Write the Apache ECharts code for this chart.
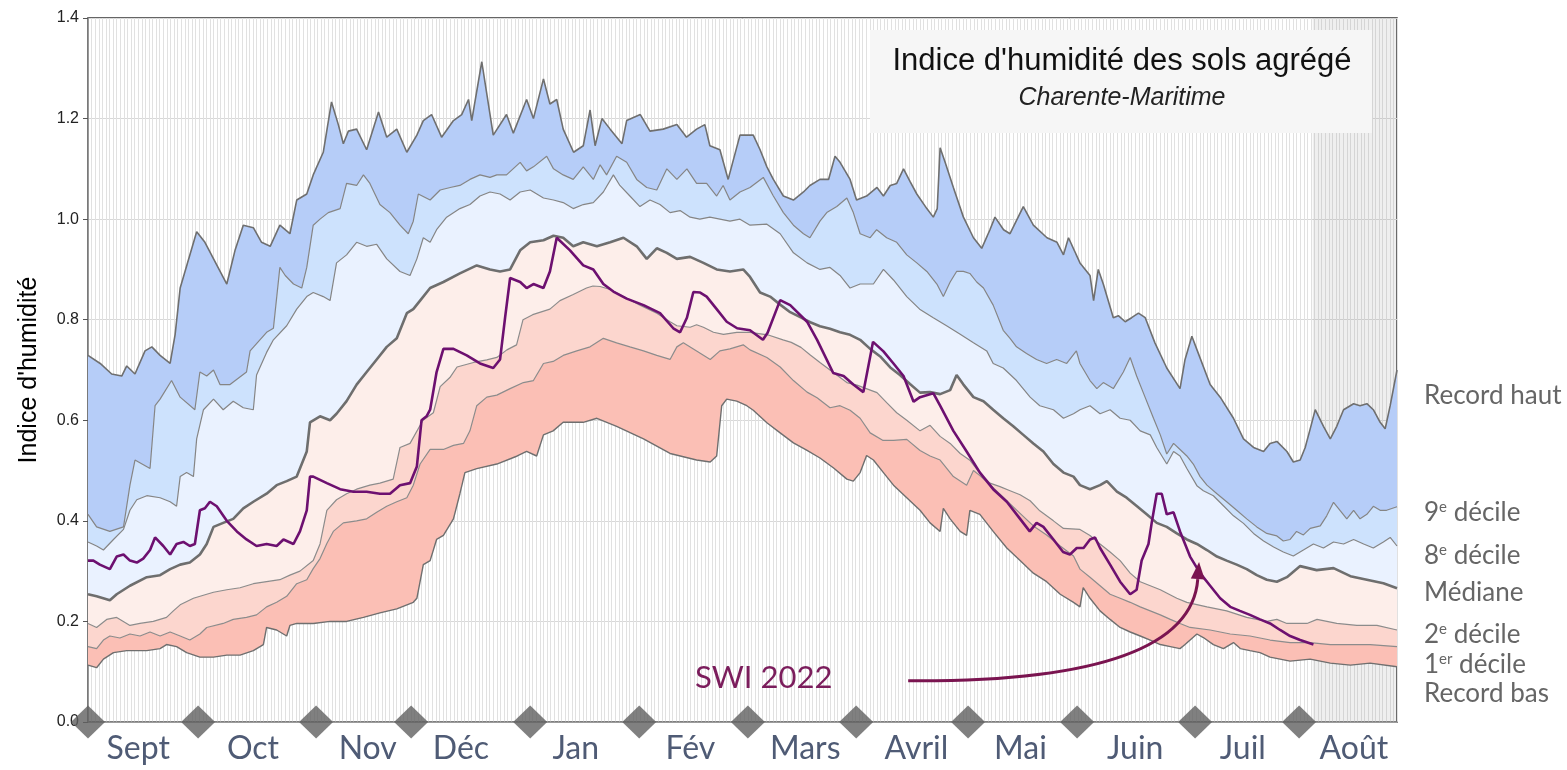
<!DOCTYPE html>
<html>
<head>
<meta charset="utf-8">
<title>Indice d'humidité des sols agrégé</title>
<script src="https://cdn.jsdelivr.net/npm/echarts@6/dist/echarts.min.js"></script>
<style>
html, body { margin: 0; padding: 0; background: #fff; }
#chart { width: 1567px; height: 770px; }
</style>
</head>
<body>
<div id="chart"></div>
<script>
// jour de l'année hydrologique (0 = 1er sept) , valeur SWI
var recordHaut = [[0,0.729],[3.4,0.713],[6.6,0.692],[9.4,0.688],[10.8,0.708],[13.1,0.692],[15.9,0.738],[17.8,0.746],[20.1,0.729],[22.9,0.713],[24.3,0.771],[25.7,0.863],[30.3,0.975],[32.6,0.954],[38.7,0.871],[41.0,0.938],[43.3,0.988],[46.1,0.983],[48.4,0.954],[50.8,0.946],[53.5,0.988],[56.3,0.971],[58.2,1.038],[61.0,1.05],[62.8,1.088],[65.6,1.133],[67.9,1.233],[69.8,1.188],[71.2,1.15],[72.6,1.175],[74.9,1.179],[77.7,1.138],[81.0,1.213],[83.3,1.163],[86.1,1.179],[88.9,1.133],[91.7,1.167],[93.5,1.196],[95.8,1.208],[98.6,1.163],[101.9,1.196],[104.2,1.208],[106.1,1.238],[107.0,1.196],[109.8,1.313],[113.0,1.167],[116.7,1.208],[118.6,1.171],[122.3,1.238],[124.2,1.2],[127.0,1.279],[128.8,1.229],[130.7,1.238],[132.5,1.179],[135.4,1.133],[138.1,1.146],[140.0,1.217],[141.4,1.146],[143.3,1.2],[145.6,1.179],[148.9,1.15],[150.2,1.196],[154.0,1.208],[156.7,1.175],[160.4,1.179],[164.2,1.188],[166.9,1.163],[169.7,1.179],[172.0,1.188],[173.4,1.146],[176.2,1.138],[178.5,1.079],[181.8,1.167],[185.5,1.167],[187.4,1.138],[189.3,1.104],[191.1,1.079],[193.9,1.046],[196.7,1.038],[199.5,1.054],[201.3,1.067],[204.1,1.079],[206.5,1.079],[208.3,1.125],[209.7,1.113],[212.5,1.079],[214.3,1.038],[217.1,1.046],[220.0,1.063],[221.8,1.046],[223.7,1.067],[225.5,1.071],[227.4,1.1],[229.2,1.075],[231.1,1.05],[233.9,1.021],[235.7,1.004],[236.8,1.021],[237.6,1.142],[239.0,1.113],[241.3,1.063],[244.1,1.004],[246.9,0.963],[249.2,0.942],[251.5,0.979],[252.9,1.004],[255.3,0.979],[257.1,0.971],[260.8,1.025],[263.6,0.988],[267.4,0.963],[270.2,0.954],[272.0,0.929],[273.4,0.963],[276.6,0.913],[279.4,0.888],[280.4,0.838],[281.7,0.9],[283.1,0.871],[285.9,0.804],[287.3,0.808],[289.2,0.796],[291.0,0.804],[292.9,0.813],[294.8,0.804],[297.5,0.754],[300.8,0.704],[304.5,0.663],[305.9,0.721],[307.8,0.767],[309.6,0.733],[312.9,0.671],[315.7,0.646],[319.4,0.604],[322.2,0.563],[325.0,0.546],[327.8,0.538],[329.6,0.554],[331.5,0.558],[334.3,0.538],[336.1,0.517],[338.0,0.521],[339.4,0.546],[340.8,0.583],[342.2,0.621],[344.5,0.588],[346.4,0.563],[348.2,0.588],[350.1,0.621],[352.9,0.633],[354.7,0.629],[356.6,0.633],[358.4,0.621],[360.3,0.596],[361.7,0.583],[363.1,0.629],[365,0.70]];

var decile9 = [[0,0.413],[2.4,0.388],[6.1,0.379],[9.9,0.388],[11.7,0.471],[13.1,0.521],[17.3,0.504],[18.7,0.629],[20.1,0.642],[23.3,0.679],[25.7,0.646],[29.8,0.621],[31.2,0.696],[33.1,0.688],[35.0,0.7],[36.8,0.671],[39.6,0.671],[44.2,0.696],[45.2,0.738],[49.8,0.775],[51.7,0.783],[53.5,0.904],[55.0,0.888],[57.3,0.871],[59.6,0.863],[61.0,0.904],[62.8,0.988],[64.7,1.0],[67.0,1.013],[70.3,1.021],[72.1,1.071],[74.9,1.067],[76.8,1.088],[78.6,1.071],[81.4,1.029],[84.2,1.013],[87.0,0.988],[89.3,0.971],[90.7,0.996],[92.1,1.05],[95.4,1.038],[98.2,1.058],[101.0,1.063],[103.7,1.067],[106.5,1.079],[109.3,1.088],[112.1,1.083],[114.0,1.088],[116.7,1.088],[120.5,1.113],[122.3,1.096],[124.2,1.104],[127.9,1.125],[129.8,1.1],[132.5,1.088],[135.3,1.079],[138.1,1.104],[140.9,1.079],[142.8,1.108],[144.6,1.088],[147.4,1.125],[150.2,1.113],[153.0,1.079],[155.8,1.063],[158.6,1.058],[161.4,1.1],[164.2,1.079],[167.0,1.1],[169.7,1.071],[172.5,1.071],[175.3,1.046],[177.1,1.067],[179.0,1.038],[181.8,1.054],[184.6,1.063],[188.3,1.083],[191.1,1.046],[193.9,1.013],[196.7,0.988],[199.5,0.971],[201.3,0.963],[204.1,0.996],[206.0,1.013],[208.8,1.025],[211.6,1.042],[213.4,1.013],[215.3,0.971],[218.1,0.963],[219.9,0.979],[222.7,0.963],[225.5,0.954],[228.3,0.929],[231.1,0.913],[233.9,0.896],[236.7,0.871],[238.5,0.846],[240.4,0.875],[242.2,0.896],[244.1,0.896],[245.9,0.892],[247.8,0.875],[249.7,0.863],[252.4,0.829],[255.2,0.779],[257.1,0.763],[258.9,0.746],[261.7,0.733],[264.5,0.721],[267.3,0.713],[270.1,0.721],[272.9,0.713],[275.6,0.738],[276.6,0.713],[279.4,0.679],[281.3,0.663],[283.1,0.675],[285.9,0.663],[288.7,0.696],[290.6,0.725],[292.4,0.688],[294.3,0.654],[297.1,0.604],[299.0,0.571],[300.8,0.533],[302.7,0.554],[304.5,0.542],[306.4,0.529],[308.2,0.513],[310.1,0.488],[312.0,0.471],[314.8,0.454],[317.5,0.438],[320.3,0.421],[323.1,0.404],[325.9,0.388],[328.7,0.375],[331.5,0.37],[333.3,0.36],[335.2,0.363],[337.0,0.379],[338.9,0.372],[340.8,0.385],[343.6,0.39],[345.4,0.41],[347.3,0.437],[349.1,0.421],[351.0,0.404],[352.9,0.421],[354.7,0.404],[356.6,0.413],[358.4,0.429],[360.3,0.421],[362.1,0.421],[365,0.428]];

var decile8 = [[0,0.358],[2.4,0.35],[4.3,0.342],[7.1,0.363],[9.9,0.383],[11.7,0.421],[13.6,0.442],[16.4,0.45],[20.1,0.446],[22.9,0.438],[24.7,0.429],[25.7,0.488],[27.5,0.496],[29.4,0.488],[30.3,0.563],[32.2,0.621],[35.0,0.642],[37.7,0.621],[40.5,0.638],[43.3,0.625],[46.1,0.621],[47.0,0.69],[49.8,0.735],[51.7,0.76],[55.4,0.788],[58.2,0.821],[61.0,0.846],[62.8,0.854],[65.6,0.846],[67.5,0.838],[69.3,0.913],[72.1,0.929],[74.9,0.954],[77.7,0.946],[80.5,0.95],[83.3,0.921],[87.0,0.896],[89.8,0.888],[91.7,0.921],[93.5,0.963],[95.4,0.954],[97.2,0.979],[100.0,1.004],[103.7,1.021],[106.5,1.029],[109.3,1.046],[112.1,1.054],[114.9,1.05],[117.7,1.038],[120.5,1.054],[123.3,1.058],[127.0,1.042],[129.8,1.038],[132.5,1.033],[135.3,1.021],[138.1,1.029],[140.9,1.033],[143.7,1.054],[146.5,1.088],[148.3,1.067],[151.1,1.046],[153.9,1.025],[156.7,1.038],[159.5,1.029],[162.3,1.013],[165.1,1.017],[167.9,1.004],[170.6,1.0],[173.4,1.004],[176.2,1.0],[179.0,0.996],[181.8,1.0],[184.6,0.988],[189.3,0.99],[193.0,0.971],[196.7,0.933],[200.5,0.913],[204.1,0.9],[206.9,0.904],[209.7,0.888],[212.5,0.863],[215.3,0.871],[219.0,0.871],[221.8,0.9],[224.6,0.879],[228.3,0.846],[231.9,0.821],[235.7,0.804],[239.4,0.788],[243.2,0.771],[246.9,0.754],[250.6,0.738],[252.4,0.713],[255.2,0.704],[258.9,0.679],[262.7,0.646],[265.4,0.629],[269.2,0.621],[272.0,0.604],[274.8,0.613],[276.6,0.621],[279.4,0.629],[282.2,0.613],[285.0,0.621],[287.8,0.604],[290.6,0.6],[293.4,0.579],[296.2,0.571],[298.0,0.546],[300.8,0.513],[302.7,0.538],[304.5,0.529],[306.4,0.504],[309.2,0.47],[311.0,0.46],[313.8,0.45],[316.6,0.43],[319.4,0.41],[322.2,0.395],[325.0,0.375],[327.8,0.36],[330.6,0.348],[333.3,0.338],[336.1,0.33],[338.9,0.342],[341.7,0.354],[344.5,0.346],[347.3,0.358],[350.1,0.354],[352.9,0.363],[355.7,0.354],[358.4,0.346],[361.2,0.358],[363.1,0.367],[365,0.35]];

var mediane = [[0,0.254],[2.4,0.25],[6.1,0.242],[8.0,0.254],[11.7,0.271],[16.4,0.288],[20.1,0.292],[22.9,0.304],[25.7,0.313],[28.4,0.317],[31.2,0.333],[33.1,0.354],[35.0,0.388],[37.7,0.396],[40.5,0.404],[43.3,0.425],[46.1,0.438],[49.8,0.454],[52.6,0.471],[55.4,0.479],[58.2,0.488],[61.0,0.538],[61.9,0.596],[64.7,0.608],[67.5,0.6],[69.3,0.613],[72.1,0.638],[74.9,0.671],[77.7,0.696],[80.5,0.721],[83.3,0.746],[86.1,0.763],[88.9,0.813],[90.7,0.821],[92.6,0.838],[95.4,0.863],[99.1,0.875],[103.7,0.892],[108.4,0.908],[112.1,0.9],[114.9,0.896],[117.7,0.9],[120.5,0.938],[123.3,0.954],[127.0,0.958],[129.8,0.967],[132.5,0.963],[135.3,0.946],[138.1,0.954],[141.9,0.946],[145.6,0.954],[149.3,0.963],[153.0,0.946],[155.8,0.921],[158.6,0.942],[161.4,0.933],[164.2,0.921],[167.9,0.925],[171.6,0.913],[175.3,0.9],[179.0,0.896],[182.7,0.9],[184.6,0.885],[187.4,0.854],[190.2,0.846],[193.0,0.83],[195.8,0.815],[198.6,0.805],[201.4,0.795],[204.1,0.787],[206.9,0.782],[209.7,0.775],[212.5,0.77],[215.3,0.76],[218.1,0.742],[220.9,0.727],[223.7,0.705],[226.4,0.69],[229.2,0.672],[232.0,0.655],[234.8,0.656],[237.6,0.652],[240.4,0.66],[242.2,0.69],[244.1,0.671],[246.9,0.646],[249.7,0.638],[252.4,0.621],[255.2,0.604],[258.0,0.588],[260.8,0.571],[263.6,0.554],[266.4,0.538],[269.2,0.513],[272.0,0.496],[274.8,0.488],[276.6,0.471],[279.4,0.463],[282.2,0.471],[284.1,0.479],[286.9,0.458],[289.6,0.446],[292.5,0.429],[295.2,0.413],[298.0,0.396],[300.8,0.388],[303.6,0.375],[306.4,0.363],[309.2,0.354],[312.0,0.342],[314.8,0.329],[317.5,0.321],[320.3,0.313],[323.1,0.304],[325.9,0.292],[328.7,0.283],[331.5,0.279],[334.3,0.288],[338.0,0.31],[342.6,0.302],[347.3,0.306],[352.0,0.29],[356.6,0.283],[361.2,0.276],[365,0.266]];

var decile2 = [[0,0.196],[2.4,0.188],[5.2,0.204],[8.0,0.208],[11.7,0.192],[14.5,0.196],[18.2,0.2],[21.9,0.208],[23.8,0.221],[25.7,0.233],[29.4,0.246],[33.1,0.254],[35.0,0.258],[38.7,0.263],[42.4,0.267],[46.1,0.275],[49.8,0.279],[53.5,0.283],[56.3,0.292],[59.1,0.3],[62.8,0.321],[64.7,0.354],[66.6,0.421],[69.3,0.442],[72.1,0.454],[74.9,0.463],[78.6,0.471],[81.4,0.475],[85.1,0.483],[87.0,0.546],[89.8,0.554],[93.4,0.6],[96.3,0.615],[98.2,0.667],[100.9,0.685],[102.9,0.706],[107.5,0.715],[111.2,0.72],[114.0,0.725],[116.8,0.74],[119.5,0.75],[121.3,0.8],[124.0,0.81],[128.8,0.821],[131.6,0.838],[135.3,0.85],[139.0,0.863],[140.8,0.867],[142.8,0.866],[145.6,0.86],[149.3,0.846],[153.9,0.829],[158.6,0.813],[162.3,0.796],[164.2,0.788],[167.9,0.785],[169.7,0.79],[171.6,0.785],[174.4,0.775],[177.2,0.771],[180.9,0.775],[184.6,0.775],[189.5,0.77],[193.8,0.76],[196.1,0.755],[198.8,0.745],[201.4,0.73],[204.1,0.715],[206.9,0.7],[211.6,0.675],[214.4,0.67],[220.0,0.655],[222.7,0.635],[225.5,0.615],[228.3,0.6],[232.0,0.579],[234.8,0.59],[237.6,0.568],[240.4,0.554],[243.2,0.534],[246.0,0.52],[248.7,0.495],[251.5,0.475],[254.3,0.468],[257.1,0.46],[259.9,0.452],[262.7,0.44],[265.4,0.42],[269.2,0.4],[272.0,0.385],[276.6,0.383],[279.4,0.371],[282.2,0.354],[285.0,0.338],[287.8,0.321],[290.6,0.296],[293.4,0.279],[296.2,0.271],[299.0,0.263],[303.6,0.246],[306.4,0.238],[312.0,0.229],[317.5,0.221],[323.1,0.208],[328.7,0.2],[331.5,0.204],[334.3,0.196],[339.9,0.196],[342.7,0.204],[348.2,0.196],[353.8,0.192],[359.4,0.192],[365,0.183]];

var decile1 = [[0,0.15],[2.4,0.146],[4.3,0.163],[6.1,0.171],[8.9,0.167],[11.7,0.175],[14.5,0.171],[17.3,0.179],[20.1,0.171],[22.9,0.179],[25.7,0.171],[28.4,0.163],[31.2,0.175],[33.1,0.188],[37.7,0.196],[40.5,0.204],[44.2,0.208],[47.0,0.213],[49.8,0.229],[52.6,0.238],[55.4,0.25],[58.2,0.275],[61.0,0.283],[62.8,0.305],[64.7,0.325],[66.6,0.355],[68.4,0.379],[71.2,0.396],[74.9,0.4],[77.7,0.404],[80.5,0.417],[83.3,0.429],[86.1,0.438],[88.9,0.446],[90.7,0.471],[92.6,0.513],[95.4,0.542],[99.1,0.542],[101.9,0.55],[104.7,0.554],[106.5,0.579],[108.4,0.629],[111.2,0.646],[114.0,0.65],[117.7,0.663],[121.4,0.675],[124.2,0.679],[127.0,0.713],[129.7,0.717],[132.5,0.729],[136.3,0.738],[140.0,0.746],[143.7,0.763],[147.4,0.754],[151.1,0.746],[154.9,0.738],[158.6,0.729],[162.3,0.721],[164.2,0.746],[166.0,0.754],[169.7,0.738],[173.5,0.721],[176.2,0.738],[179.0,0.742],[182.7,0.75],[184.6,0.74],[189.3,0.725],[193.0,0.706],[196.7,0.679],[200.5,0.656],[203.3,0.645],[206.9,0.625],[209.7,0.629],[212.5,0.62],[215.3,0.604],[218.1,0.575],[221.7,0.56],[224.6,0.56],[228.3,0.562],[232.0,0.54],[234.8,0.529],[237.6,0.521],[241.3,0.488],[245.0,0.471],[246.9,0.5],[248.7,0.49],[252.4,0.466],[256.2,0.44],[259.9,0.415],[263.6,0.39],[267.3,0.372],[271.1,0.35],[274.8,0.33],[276.6,0.304],[279.4,0.288],[282.2,0.271],[285.0,0.254],[287.8,0.246],[290.6,0.238],[293.4,0.229],[296.2,0.221],[299.0,0.213],[301.8,0.204],[304.5,0.196],[307.3,0.188],[312.9,0.183],[318.5,0.175],[324.0,0.171],[329.6,0.163],[335.2,0.158],[340.8,0.158],[346.4,0.154],[352.0,0.154],[357.5,0.154],[365,0.15]];

var recordBas = [[0,0.113],[2.4,0.108],[4.3,0.125],[7.1,0.138],[10.8,0.142],[16.4,0.142],[20.1,0.146],[21.9,0.154],[24.7,0.15],[27.5,0.138],[31.2,0.129],[35.0,0.129],[38.7,0.133],[42.4,0.133],[46.1,0.142],[48.9,0.154],[49.8,0.188],[52.6,0.183],[55.4,0.171],[56.3,0.192],[58.2,0.196],[62.8,0.196],[67.5,0.2],[72.1,0.2],[76.8,0.208],[81.4,0.217],[86.1,0.225],[90.7,0.238],[91.7,0.246],[93.5,0.313],[95.4,0.321],[97.2,0.363],[99.1,0.371],[101.9,0.404],[103.7,0.454],[105.1,0.496],[108.4,0.504],[114.0,0.513],[119.7,0.529],[122.3,0.538],[125.1,0.529],[127.0,0.571],[129.7,0.579],[132.5,0.596],[138.1,0.596],[141.9,0.604],[147.4,0.588],[154.9,0.563],[162.3,0.534],[169.7,0.521],[173.5,0.517],[175.3,0.529],[176.7,0.629],[178.1,0.642],[180.9,0.638],[183.7,0.629],[185.5,0.62],[189.3,0.595],[193.0,0.575],[196.7,0.555],[200.5,0.54],[204.1,0.525],[207.9,0.505],[211.6,0.483],[213.4,0.479],[215.3,0.496],[217.1,0.53],[219.0,0.521],[221.8,0.496],[224.6,0.471],[228.3,0.446],[232.0,0.421],[234.8,0.396],[237.6,0.379],[238.5,0.425],[240.4,0.404],[243.2,0.379],[245.0,0.371],[245.9,0.421],[248.7,0.413],[252.4,0.379],[256.2,0.346],[259.9,0.321],[263.6,0.296],[267.3,0.279],[271.1,0.254],[274.8,0.238],[276.6,0.229],[277.5,0.267],[279.4,0.246],[282.2,0.221],[285.0,0.204],[287.8,0.188],[290.6,0.179],[293.4,0.171],[296.2,0.163],[299.0,0.154],[301.8,0.15],[304.5,0.146],[305.9,0.154],[309.2,0.175],[311.0,0.168],[313.8,0.154],[316.6,0.146],[319.4,0.158],[321.3,0.146],[324.0,0.142],[326.8,0.138],[329.6,0.129],[335.2,0.121],[340.8,0.125],[346.4,0.117],[352.0,0.113],[357.5,0.117],[365,0.11]];

var swi2022 = [[0,0.321],[1.5,0.321],[3.3,0.313],[6.1,0.304],[8.0,0.329],[9.9,0.333],[11.7,0.321],[13.6,0.317],[15.4,0.325],[17.3,0.342],[18.7,0.367],[21.0,0.35],[22.9,0.333],[24.7,0.354],[26.6,0.358],[28.4,0.35],[29.8,0.354],[31.2,0.421],[32.6,0.425],[34.0,0.438],[35.9,0.429],[38.7,0.4],[41.5,0.379],[44.2,0.363],[47.0,0.35],[49.8,0.354],[52.6,0.35],[54.5,0.363],[57.3,0.354],[59.1,0.379],[61.0,0.421],[61.9,0.488],[62.8,0.488],[66.6,0.475],[70.3,0.463],[74.0,0.458],[77.7,0.458],[81.4,0.454],[84.2,0.454],[87.0,0.471],[89.8,0.475],[91.7,0.508],[93.0,0.6],[94.4,0.608],[95.4,0.621],[97.2,0.696],[99.1,0.742],[101.9,0.742],[105.6,0.729],[109.3,0.713],[113.0,0.704],[114.9,0.721],[116.3,0.804],[117.7,0.883],[120.5,0.875],[122.3,0.863],[124.2,0.871],[127.0,0.863],[128.8,0.896],[130.7,0.963],[134.4,0.938],[138.1,0.908],[140.9,0.9],[143.7,0.871],[146.5,0.856],[150.2,0.842],[154.9,0.829],[159.5,0.813],[163.2,0.783],[165.1,0.775],[167.0,0.804],[168.8,0.855],[170.7,0.854],[172.5,0.846],[175.3,0.821],[178.1,0.796],[181.0,0.783],[184.6,0.779],[188.2,0.76],[189.5,0.774],[193.0,0.839],[195.8,0.829],[200.5,0.796],[203.3,0.76],[207.8,0.694],[210.7,0.688],[213.4,0.671],[216.2,0.656],[218.9,0.756],[221.8,0.737],[224.6,0.713],[227.4,0.688],[230.2,0.637],[232.0,0.646],[235.7,0.654],[237.6,0.629],[241.3,0.579],[245.0,0.538],[248.7,0.496],[252.4,0.463],[256.2,0.438],[259.9,0.404],[262.6,0.379],[264.5,0.396],[266.4,0.388],[269.2,0.363],[271.9,0.338],[273.8,0.333],[275.7,0.346],[277.6,0.346],[279.4,0.363],[280.8,0.367],[282.2,0.346],[285.0,0.313],[287.8,0.279],[290.6,0.254],[292.4,0.263],[293.8,0.321],[295.7,0.354],[296.6,0.396],[298.0,0.454],[299.4,0.454],[300.8,0.413],[302.7,0.417],[304.5,0.379],[307.3,0.329],[310.1,0.296],[312.9,0.271],[315.7,0.246],[318.5,0.229],[321.2,0.221],[324.0,0.213],[326.8,0.204],[329.6,0.196],[332.4,0.183],[335.2,0.171],[338.0,0.163],[341.7,0.154]];

var monthNames = ['Sept', 'Oct', 'Nov', 'Déc', 'Jan', 'Fév', 'Mars', 'Avril', 'Mai', 'Juin', 'Juil', 'Août'];
var monthLabelDays = [14, 46, 78, 104, 136, 168, 200, 231, 260, 292, 322, 353];
var monthStartDays = [0, 30.7, 63.6, 90.1, 123.3, 153.7, 184.0, 214.2, 245.4, 275.8, 308.7, 337.7];
var rightLabels = ['Record haut', '9{s|e} décile', '8{s|e} décile', 'Médiane', '2{s|e} décile', '1{s|er} décile', 'Record bas'];
var rightLabelY = [396, 513, 556, 593, 635, 665, 694];
// flèche annotée : départ, point de contrôle, arrivée (jour, valeur)
var arrowPath = [[228.7, 0.082], [307.3, 0.078], [309.8, 0.318]];

var chart = echarts.init(document.getElementById('chart'));

function band(upper, lower, color) {
  return {
    type: 'custom',
    silent: true,
    z: 2,
    data: [[0, 0]],
    renderItem: function (params, api) {
      var pts = [];
      for (var i = 0; i < upper.length; i++) pts.push(api.coord(upper[i]));
      for (var j = lower.length - 1; j >= 0; j--) pts.push(api.coord(lower[j]));
      return { type: 'polygon', shape: { points: pts }, style: { fill: color } };
    }
  };
}

function edge(data, width, color) {
  return {
    type: 'line', data: data, symbol: 'none', silent: true, z: 3,
    lineStyle: { width: width, color: color }
  };
}

var labelGraphics = rightLabels.map(function (t, i) {
  return {
    type: 'text', x: 1424, y: rightLabelY[i], z: 60,
    style: {
      text: t, fill: '#666', fontSize: 26, fontFamily: 'Lato',
      textVerticalAlign: 'middle',
      rich: { s: { fontSize: 15, fontFamily: 'Lato', fill: '#666', verticalAlign: 'top', lineHeight: 26 } }
    }
  };
});

var option = {
  animation: false,
  grid: { left: 88, right: 170, top: 18, bottom: 48, show: true, borderColor: '#333', borderWidth: 1.5 },
  xAxis: {
    type: 'value', min: 0, max: 365, interval: 1,
    axisLine: { lineStyle: { color: '#888', width: 1.5 } },
    axisTick: { show: false },
    splitLine: { show: true, lineStyle: { color: '#e1e1e1', width: 1 } },
    axisLabel: {
      margin: 11, fontSize: 32, fontFamily: 'Lato', color: '#4f5b75',
      formatter: function (v) {
        var k = monthLabelDays.indexOf(v);
        return k >= 0 ? monthNames[k] : '';
      }
    }
  },
  yAxis: {
    type: 'value', min: 0, max: 1.4, interval: 0.2,
    name: "Indice d'humidité", nameLocation: 'middle', nameGap: 46,
    nameTextStyle: { fontSize: 25, color: '#000', fontFamily: 'Liberation Sans' },
    axisLine: { show: true, lineStyle: { color: '#808080', width: 1.5 } },
    axisTick: { show: true, length: 5, lineStyle: { color: '#555' } },
    axisLabel: { fontSize: 16, color: '#222', fontFamily: 'Liberation Sans', margin: 9,
      formatter: function (v) { return v.toFixed(1); } },
    splitLine: { lineStyle: { color: '#d8d8d8' } }
  },
  graphic: [
    { type: 'rect', x: 870, y: 30, z: 50, shape: { width: 502, height: 103 }, style: { fill: '#f6f6f6' } },
    { type: 'text', x: 1122, y: 61, z: 51, style: { text: "Indice d'humidité des sols agrégé", fill: '#111',
      font: '31px "Liberation Sans"', textAlign: 'center', textVerticalAlign: 'middle' } },
    { type: 'text', x: 1122, y: 98, z: 51, style: { text: 'Charente-Maritime', fill: '#222',
      font: 'italic 25px "Liberation Sans"', textAlign: 'center', textVerticalAlign: 'middle' } },
    { type: 'text', x: 695, y: 678, z: 51, style: { text: 'SWI 2022', fill: '#7b1d5c',
      font: '31px Lato', textVerticalAlign: 'middle' } }
  ].concat(labelGraphics),
  series: [
    {
      type: 'line', data: [[341, 0], [365, 0]], symbol: 'none', silent: true, z: 1,
      lineStyle: { opacity: 0 },
      markArea: { silent: true, itemStyle: { color: 'rgba(140,140,140,0.14)' }, data: [[{ xAxis: 341.5 }, { xAxis: 365 }]] }
    },
    band(recordHaut, decile9, '#b6cdf8'),
    band(decile9, decile8, '#cde2fd'),
    band(decile8, mediane, '#eaf2ff'),
    band(mediane, decile2, '#fdeeea'),
    band(decile2, decile1, '#fcd6ce'),
    band(decile1, recordBas, '#fbbfb5'),
    edge(recordHaut, 1.6, '#6f6f6f'),
    edge(decile9, 1.2, '#858585'),
    edge(decile8, 1.2, '#858585'),
    edge(mediane, 2.6, '#6e6e6e'),
    edge(decile2, 1.2, '#8c8c8c'),
    edge(decile1, 1.2, '#8c8c8c'),
    edge(recordBas, 1.4, '#6f6f6f'),
    {
      type: 'line', name: 'SWI 2022', data: swi2022, symbol: 'none', z: 4,
      lineStyle: { width: 2.6, color: '#6d1070' }
    },
    {
      type: 'custom', silent: true, z: 6, data: [[0, 0]],
      renderItem: function (params, api) {
        var p0 = api.coord(arrowPath[0]), c = api.coord(arrowPath[1]), p1 = api.coord(arrowPath[2]);
        var dx = p1[0] - c[0], dy = p1[1] - c[1], len = Math.sqrt(dx * dx + dy * dy);
        dx /= len; dy /= len;
        var bx = p1[0] - dx * 17, by = p1[1] - dy * 17;
        return {
          type: 'group',
          children: [
            { type: 'bezierCurve', shape: { x1: p0[0], y1: p0[1], x2: bx, y2: by, cpx1: c[0], cpy1: c[1] },
              style: { stroke: '#7a1450', lineWidth: 3, fill: 'none' } },
            { type: 'polygon', shape: { points: [[p1[0], p1[1]], [bx - dy * 7, by + dx * 7], [bx + dy * 7, by - dx * 7]] },
              style: { fill: '#7a1450' } }
          ]
        };
      }
    },
    {
      type: 'scatter', data: monthStartDays.map(function (d) { return [d, 0]; }),
      symbol: 'diamond', symbolSize: [34, 33], clip: false, z: 8, silent: true,
      itemStyle: { color: '#606060' }
    }
  ]
};
chart.setOption(option);
</script>
</body>
</html>
